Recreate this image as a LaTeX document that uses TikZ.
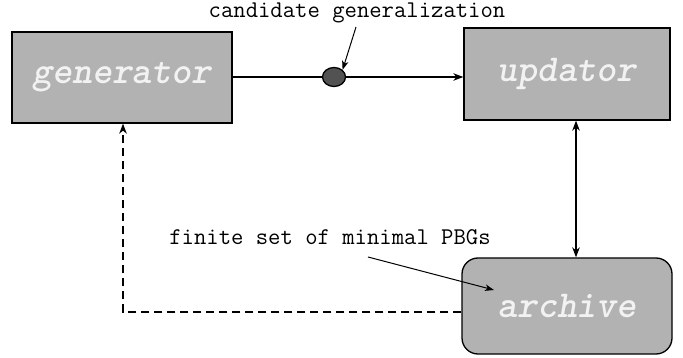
\documentclass[tikz,border=0pt]{standalone}
\usepackage{fontspec}
\usetikzlibrary{arrows.meta,shapes.geometric}
\begin{document}
\begin{tikzpicture}[x=1pt,y=-1pt,
  block/.style={draw=black, line width=1.3pt, fill=black!30, inner sep=0pt,
    font=\fontsize{38}{40}\selectfont\ttfamily\bfseries\itshape, text=white!95!black},
  conn/.style={line width=1.3pt, -{Stealth[length=10pt,width=7.5pt,inset=3pt]}},
  note/.style={font=\fontsize{24}{27}\selectfont\ttfamily, inner sep=0pt, anchor=base},
  pointer/.style={line width=1pt, -{Stealth[length=9pt,width=6.5pt,inset=2.5pt]}}]
\useasboundingbox (0,0) rectangle (683,358);

% the three components
\node[block, minimum width=220pt, minimum height=91pt] (gen) at (122,77.5) {generator};
\node[block, minimum width=206pt, minimum height=92pt] (upd) at (567,74) {updator};
\node[block, rounded corners=16pt, minimum width=210pt, minimum height=96pt] (arc) at (567,306) {archive};

% candidate passing from generator to updator
\node[draw=black, line width=1.3pt, fill=black!68, ellipse, minimum width=23pt, minimum height=19pt, inner sep=0pt] (dot) at (334,77) {};
\draw[line width=1.3pt] (gen.east |- dot) -- (dot);
\draw[conn] (dot) -- (dot -| upd.west);

% updator <-> archive
\draw[line width=1.3pt, {Stealth[length=10pt,width=7.5pt,inset=3pt]}-{Stealth[length=10pt,width=7.5pt,inset=3pt]}] (upd.south -| 576,0) -- (arc.north -| 576,0);

% feedback from archive to generator
\coordinate (corner) at (123,312);
\draw[conn, dashed, dash pattern=on 8pt off 5pt] (arc.west |- corner) -- (corner) -- (gen.south -| corner);

% annotations
\node[note] (cand) at (357,18) {candidate generalization};
\draw[pointer] (356,27) -- (dot.north east);
\node[note] (fin) at (330,245) {finite set of minimal PBGs};
\coordinate (finend) at (494,290);
\draw[pointer] (368,257) -- (finend);
\end{tikzpicture}
\end{document}
